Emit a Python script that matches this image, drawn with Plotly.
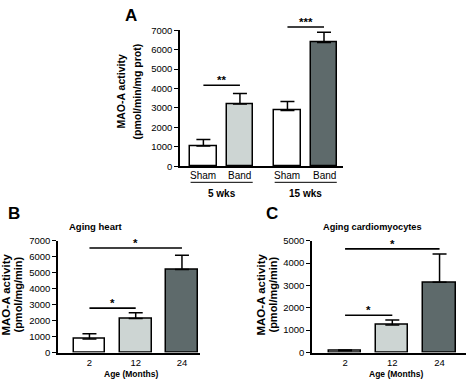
import plotly.graph_objects as go

# ---------------- data ----------------
a_groups = ["5 wks", "15 wks"]
a_conditions = ["Sham", "Band"]
a_values = [1050, 3200, 2870, 6370]      # Sham5, Band5, Sham15, Band15
a_errors = [330, 550, 460, 530]

b_ages = ["2", "12", "24"]
b_values = [850, 2130, 5200]
b_errors = [320, 360, 900]

c_ages = ["2", "12", "24"]
c_values = [75, 1230, 3140]
c_errors = [40, 220, 1270]

# significance brackets: (from index, to index, level, label)
a_sig = [(0, 1, 4170, "**"), (2, 3, 7170, "***")]
b_sig = [(0, 1, 2780, "*"), (0, 2, 6550, "*")]
c_sig = [(0, 1, 1667, "*"), (0, 2, 4640, "*")]

# ---------------- styling ----------------
W, H = 474, 385
FONT = "Liberation Sans, Arial, sans-serif"
WHITE, LIGHT, DARK = "#ffffff", "#cdd5d3", "#5e6a6b"
GROUP_GAP = 2.3

def px_x(p):
    return p / W

def px_y(p):
    return 1 - p / H

fig = go.Figure()

# Panel A positions
a_pos = []
for gi, g in enumerate(a_groups):
    for ci, c in enumerate(a_conditions):
        a_pos.append(gi * GROUP_GAP + ci)
a_colors = [WHITE, LIGHT, WHITE, DARK]

def add_bars(x, y, err, colors, xa, ya, width):
    fig.add_trace(go.Bar(
        x=x, y=y, width=width,
        marker=dict(color=colors, line=dict(color="black", width=1.5)),
        error_y=dict(type="data", array=err, arrayminus=[0] * len(err),
                     symmetric=False, color="black", thickness=1.5, width=7),
        xaxis=xa, yaxis=ya, showlegend=False, hoverinfo="skip",
    ))

add_bars(a_pos, a_values, a_errors, a_colors, "x", "y", 0.72)
b_pos = list(range(len(b_ages)))
c_pos = list(range(len(c_ages)))
add_bars(b_pos, b_values, b_errors, [WHITE, LIGHT, DARK], "x2", "y2", 0.69)
add_bars(c_pos, c_values, c_errors, [WHITE, LIGHT, DARK], "x3", "y3", 0.68)

tickfont = dict(family=FONT, size=9.5, color="black")
common_y = dict(showline=True, linecolor="black", linewidth=1.6, ticks="outside",
                ticklen=4, tickwidth=1.4, tickcolor="black", showgrid=False,
                zeroline=False, tickfont=tickfont, dtick=1000, fixedrange=True)
common_x = dict(showline=True, linecolor="black", linewidth=1.6, ticks="",
                showgrid=False, zeroline=False, tickfont=tickfont, fixedrange=True)

A_DOM = [px_y(165), px_y(25)]
BC_DOM = [px_y(356.7), px_y(241.7)]

fig.update_layout(
    width=W, height=H,
    margin=dict(l=0, r=0, t=0, b=0),
    paper_bgcolor="white", plot_bgcolor="white",
    font=dict(family=FONT, color="black"),
    bargap=0,
    xaxis=dict(common_x, domain=[px_x(180), px_x(343)], range=[-0.64, 3.82],
               showticklabels=False, anchor="y"),
    yaxis=dict(common_y, domain=A_DOM, range=[0, 7000], anchor="x"),
    xaxis2=dict(common_x, domain=[px_x(58), px_x(200)], range=[-0.68, 2.39],
                tickmode="array", tickvals=b_pos, ticktext=b_ages, anchor="y2"),
    yaxis2=dict(common_y, domain=BC_DOM, range=[0, 7000], anchor="x2"),
    xaxis3=dict(common_x, domain=[px_x(312), px_x(466)], range=[-0.70, 2.56],
                tickmode="array", tickvals=c_pos, ticktext=c_ages, anchor="y3"),
    yaxis3=dict(common_y, domain=BC_DOM, range=[0, 5000], anchor="x3"),
)

def add_sig(sigs, pos, xref, dom, ymax, fs):
    for i0, i1, lvl, lab in sigs:
        yp = dom[0] + (dom[1] - dom[0]) * lvl / ymax
        fig.add_shape(type="line", x0=pos[i0], x1=pos[i1], y0=yp, y1=yp,
                      xref=xref, yref="paper", line=dict(color="black", width=1.6))
        fig.add_annotation(x=(pos[i0] + pos[i1]) / 2, y=yp, xref=xref, yref="paper",
                           text="<b>%s</b>" % lab, showarrow=False, yanchor="bottom",
                           yshift=-3, font=dict(family=FONT, size=fs, color="black"))

add_sig(a_sig, a_pos, "x", A_DOM, 7000, 11.5)
add_sig(b_sig, b_pos, "x2", BC_DOM, 7000, 11.5)
add_sig(c_sig, c_pos, "x3", BC_DOM, 5000, 11.5)

# Panel A category labels and group labels
for i, p in enumerate(a_pos):
    fig.add_annotation(x=p, y=px_y(174), xref="x", yref="paper",
                       text=a_conditions[i % len(a_conditions)], showarrow=False,
                       font=dict(family=FONT, size=10, color="black"))
for gi, g in enumerate(a_groups):
    center = gi * GROUP_GAP + (len(a_conditions) - 1) / 2
    fig.add_shape(type="line", x0=center - 0.85, x1=center + 0.85,
                  y0=px_y(181.5), y1=px_y(181.5), xref="x", yref="paper",
                  line=dict(color="black", width=1))
    fig.add_annotation(x=center, y=px_y(193), xref="x", yref="paper",
                       text="<b>%s</b>" % g, showarrow=False,
                       font=dict(family=FONT, size=10, color="black"))

def txt(x, y, s, size, angle=0, anchor="center"):
    fig.add_annotation(x=px_x(x), y=px_y(y), xref="paper", yref="paper", text=s,
                       showarrow=False, textangle=angle, xanchor=anchor, yanchor="middle",
                       font=dict(family=FONT, size=size, color="black"))

# panel letters
txt(131, 10, "<b>A</b>", 17)
txt(14, 214, "<b>B</b>", 17)
txt(272, 214, "<b>C</b>", 17)

# y titles
txt(121, 88, "<b>MAO-A activity</b>", 10.5, -90)
txt(137, 88, "<b>(pmol/min/mg prot)</b>", 10.5, -90)
txt(6, 297, "<b>MAO-A activity</b>", 11.5, -90)
txt(18, 297, "<b>(pmol/mg/min)</b>", 11, -90)
txt(261, 297, "<b>MAO-A activity</b>", 11.5, -90)
txt(273, 297, "<b>(pmol/mg/min)</b>", 11, -90)

# panel titles
txt(67, 227, "<b>Aging heart</b>", 9.5, anchor="left")
txt(321, 228, "<b>Aging cardiomyocytes</b>", 9.2, anchor="left")

# x titles
txt(131, 379, "<b>Age (Months)</b>", 8.5)
txt(396, 379, "<b>Age (Months)</b>", 8.5)

fig.write_html("out.html", config={"displayModeBar": False},
               post_script="document.body.style.margin='0';")
